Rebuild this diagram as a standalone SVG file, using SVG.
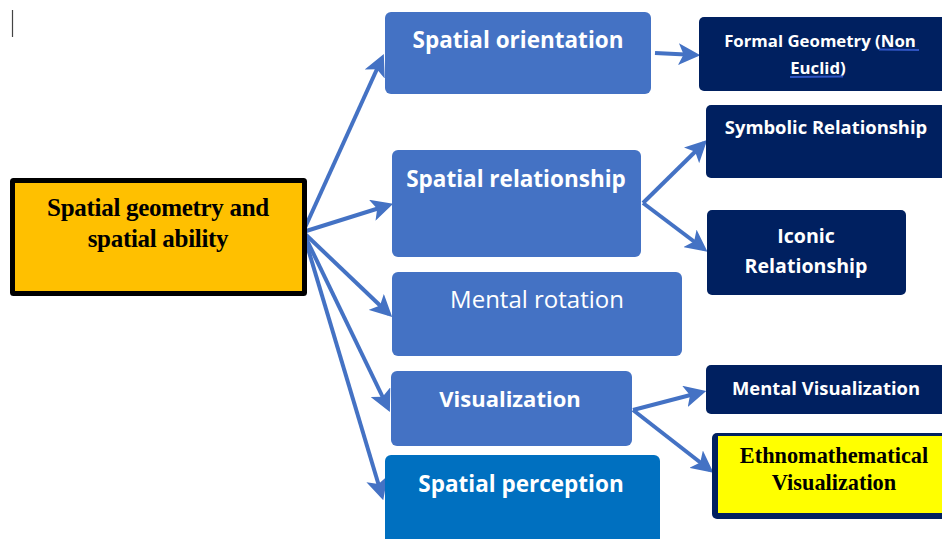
<svg xmlns="http://www.w3.org/2000/svg" width="942" height="539" viewBox="0 0 942 539">
<defs>
<marker id="ah" markerWidth="5.5" markerHeight="5.5" refX="4.4" refY="2.75" orient="auto" markerUnits="strokeWidth">
<path d="M0,0 L5.5,2.75 L0,5.5 L1.3,2.75 Z" fill="#4472C4"/>
</marker>
</defs>
<style>
.mid{fill:#4472C4}
.dark{fill:#002060}
.sans{font-family:"Open Sans","Noto Sans","Liberation Sans",sans-serif;fill:#fff;text-anchor:middle}
.b{font-weight:bold}
.serif{font-family:"Liberation Serif","Times New Roman",serif;font-weight:bold;fill:#000;text-anchor:middle}
.con{stroke:#4472C4;stroke-width:4;fill:none;marker-end:url(#ah)}
.ul{stroke:#2F55C4;stroke-width:2;fill:none}
</style>
<rect width="942" height="539" fill="#fff"/>
<line x1="12.5" y1="10" x2="12.5" y2="37" stroke="#444" stroke-width="1.2"/>

<g id="connectors">
<line class="con" x1="303" y1="232" x2="382" y2="58"/>
<line class="con" x1="303" y1="232" x2="389" y2="205"/>
<line class="con" x1="303" y1="232" x2="389" y2="314"/>
<line class="con" x1="303" y1="232" x2="388" y2="408"/>
<line class="con" x1="303" y1="232" x2="382" y2="496"/>
<line class="con" x1="655" y1="53" x2="696" y2="55"/>
<line class="con" x1="643" y1="203" x2="704" y2="143"/>
<line class="con" x1="643" y1="203" x2="704" y2="249"/>
<line class="con" x1="633" y1="410" x2="702" y2="392"/>
<line class="con" x1="633" y1="410" x2="710" y2="470"/>
</g>

<g id="main">
<rect x="12.5" y="180.5" width="292" height="113" fill="#FFC000" stroke="#000" stroke-width="5" rx="1"/>
<text class="serif" x="158" y="216" font-size="25" letter-spacing="-0.3">Spatial geometry and</text>
<text class="serif" x="158" y="247" font-size="25" letter-spacing="-0.3">spatial ability</text>
</g>

<g id="spatial-orientation">
<rect class="mid" x="385" y="12" width="266" height="82" rx="6"/>
<text class="sans b" x="518" y="48" font-size="22.5">Spatial orientation</text>
</g>

<g id="spatial-relationship">
<rect class="mid" x="392" y="150" width="249" height="107" rx="6"/>
<text class="sans b" x="516" y="187" font-size="22.5">Spatial relationship</text>
</g>

<g id="mental-rotation">
<rect class="mid" x="392" y="272" width="290" height="84" rx="6"/>
<text class="sans" x="537" y="308" font-size="24">Mental rotation</text>
</g>

<g id="visualization">
<rect class="mid" x="391" y="371" width="241" height="75" rx="6"/>
<text class="sans b" x="510" y="407" font-size="22">Visualization</text>
</g>

<g id="spatial-perception">
<rect x="385" y="455" width="275" height="90" rx="6" fill="#0070C0"/>
<text class="sans b" x="521" y="492" font-size="22.5">Spatial perception</text>
</g>

<g id="formal-geometry">
<rect class="dark" x="699" y="17" width="248" height="74" rx="5"/>
<text class="sans b" x="820" y="47" font-size="16.8">Formal Geometry (Non</text>
<text class="sans b" x="818" y="74" font-size="16.8">Euclid)</text>
<path class="ul" d="M879,49.5 L919,50"/>
<path class="ul" d="M790,77 L843,76.5"/>
</g>

<g id="symbolic-relationship">
<rect class="dark" x="706" y="105" width="245" height="73" rx="5"/>
<text class="sans b" x="826" y="134" font-size="18.4">Symbolic Relationship</text>
</g>

<g id="iconic-relationship">
<rect class="dark" x="707" y="210" width="199" height="85" rx="5"/>
<text class="sans b" x="806" y="243" font-size="19.6">Iconic</text>
<text class="sans b" x="806" y="273" font-size="19.6">Relationship</text>
</g>

<g id="mental-visualization">
<rect class="dark" x="706" y="365" width="245" height="49" rx="5"/>
<text class="sans b" x="826" y="395" font-size="18.4">Mental Visualization</text>
</g>

<g id="ethnomathematical-visualization">
<rect class="dark" x="712" y="433" width="240" height="86" rx="5"/>
<rect x="718" y="436" width="230" height="77" fill="#FFFF00"/>
<text class="serif" x="834" y="463" font-size="22.3">Ethnomathematical</text>
<text class="serif" x="834" y="490" font-size="22.3">Visualization</text>
</g>
</svg>
